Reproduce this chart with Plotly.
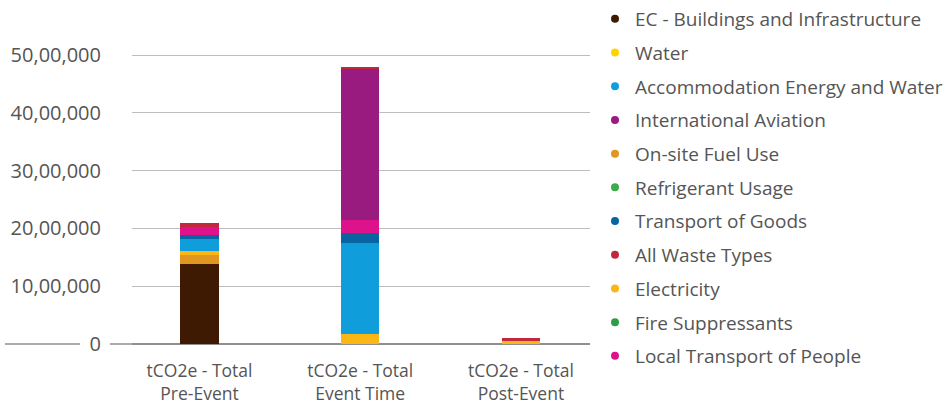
import plotly.graph_objects as go

categories = ["tCO2e - Total<br>Pre-Event", "tCO2e - Total<br>Event Time", "tCO2e - Total<br>Post-Event"]

ec_buildings = [1390000, 0, 0]
water = [0, 0, 0]
accommodation = [197000, 1580000, 0]
intl_aviation = [0, 2607000, 0]
onsite_fuel = [150000, 0, 0]
refrigerant = [0, 0, 0]
transport_goods = [75000, 163000, 0]
waste = [70000, 35000, 58000]
electricity = [75000, 173000, 45000]
fire_suppressants = [0, 0, 0]
local_transport = [144000, 230000, 0]

y_tick_vals = [0, 1000000, 2000000, 3000000, 4000000, 5000000]
y_tick_text = ["0", "10,00,000", "20,00,000", "30,00,000", "40,00,000", "50,00,000"]

series = {
    "EC - Buildings and Infrastructure": (ec_buildings, "#3f1a02"),
    "Water": (water, "#ffd300"),
    "Accommodation Energy and Water": (accommodation, "#0f9edb"),
    "International Aviation": (intl_aviation, "#9a1b80"),
    "On-site Fuel Use": (onsite_fuel, "#e1961f"),
    "Refrigerant Usage": (refrigerant, "#3cab49"),
    "Transport of Goods": (transport_goods, "#0b64a2"),
    "All Waste Types": (waste, "#c1273d"),
    "Electricity": (electricity, "#fbb715"),
    "Fire Suppressants": (fire_suppressants, "#2f9d47"),
    "Local Transport of People": (local_transport, "#de138b"),
}
legend_order = list(series.keys())
stack_order = [
    "EC - Buildings and Infrastructure", "On-site Fuel Use", "Electricity", "Water",
    "Accommodation Energy and Water", "Refrigerant Usage", "Fire Suppressants",
    "Transport of Goods", "Local Transport of People", "International Aviation",
    "All Waste Types",
]

FONT = "Open Sans"
TXT = "#555555"

fig = go.Figure()
for name in stack_order:
    vals, col = series[name]
    fig.add_trace(go.Bar(
        x=categories, y=vals, name=name, legendgroup=name, showlegend=False,
        marker=dict(color=col, line=dict(width=0)), width=0.24,
    ))
for i, name in enumerate(legend_order):
    vals, col = series[name]
    fig.add_trace(go.Scatter(
        x=[None], y=[None], mode="markers", name=name, legendgroup=name,
        legendrank=i + 1,
        marker=dict(color=col, size=8, symbol="circle"), showlegend=True,
    ))

L, R = 132, 590
W = R - L
TOP, BOT = 50, 344
YMAX = 5000000 * (BOT - TOP) / (BOT - 55)

fig.update_layout(
    width=947, height=406,
    barmode="stack",
    plot_bgcolor="white", paper_bgcolor="white",
    margin=dict(l=L, r=947 - R, t=TOP, b=406 - BOT, autoexpand=False),
    font=dict(family=FONT, size=18, color=TXT),
    showlegend=True,
    legend=dict(
        xref="container", yref="container", x=595 / 947, y=1.0,
        xanchor="left", yanchor="top", maxheight=1,
        traceorder="grouped", tracegroupgap=6,
        font=dict(family=FONT, size=19, color=TXT),
        bgcolor="rgba(0,0,0,0)",
    ),
    xaxis=dict(
        type="category", categoryorder="array", categoryarray=categories,
        range=[-0.42, 2.43], showgrid=False, zeroline=False, showline=False,
        ticks="outside", ticklen=11, tickcolor="rgba(0,0,0,0)", automargin=False,
        tickfont=dict(family=FONT, size=17.5, color=TXT),
    ),
    yaxis=dict(
        range=[0, YMAX], tickmode="array", tickvals=y_tick_vals, ticktext=y_tick_text,
        showgrid=True, gridcolor="#bdbdbd", gridwidth=1.2,
        zeroline=True, zerolinecolor="#8f8f8f", zerolinewidth=1.5,
        showline=False, ticks="", ticklabelstandoff=30,
        automargin=False,
        tickfont=dict(family=FONT, size=20, color=TXT),
    ),
    shapes=[
        dict(type="line", xref="paper", yref="paper", x0=(5 - L) / W, x1=(80 - L) / W, y0=0, y1=0,
             line=dict(color="#8f8f8f", width=1.5), layer="below"),
        dict(type="line", xref="paper", yref="paper", x0=(110 - L) / W, x1=0, y0=0, y1=0,
             line=dict(color="#8f8f8f", width=1.5), layer="below"),
    ],
)

fig.write_html("out.html")
